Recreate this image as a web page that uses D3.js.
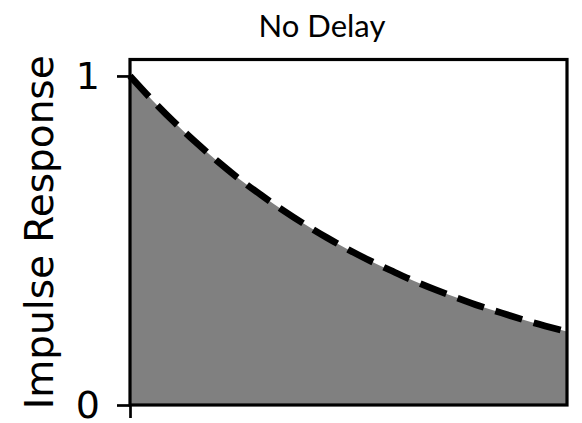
<!DOCTYPE html>
<html>
<head>
<meta charset="utf-8">
<script src="https://cdn.jsdelivr.net/npm/d3@7"></script>
<style>
  body { margin: 0; background: #fff; }
  .dv { font-family: "DejaVu Sans", "Verdana", sans-serif; }
</style>
</head>
<body>
<div id="root"></div>
<script>
const width = 582;
const height = 423;

// time points and response
const times = [0, 0.05, 0.1, 0.15, 0.2, 0.25, 0.3, 0.35, 0.4, 0.45, 0.5,
               0.55, 0.6, 0.65, 0.7, 0.75, 0.8, 0.85, 0.9, 0.95, 1];
const response = [1.000, 0.928, 0.861, 0.799, 0.741, 0.687, 0.638, 0.592, 0.549, 0.509, 0.472,
                  0.438, 0.407, 0.377, 0.350, 0.325, 0.301, 0.280, 0.259, 0.240, 0.223];
const yTicks = [0, 1];
const xTicks = [0];

const title = "No Delay";
const yLabel = "Impulse Response";

const plotLeft = 130, plotRight = 567, plotTop = 59.5, plotBottom = 405;

const svg = d3.select("#root").append("svg")
  .attr("width", width)
  .attr("height", height);

const x = d3.scaleLinear().domain([0, 1]).range([plotLeft, plotRight]);
const y = d3.scaleLinear().domain([0, 1.05]).range([plotBottom, plotTop]);

const points = times.map((t, i) => [t, response[i]]);

// gray fill under the curve
svg.append("path")
  .datum(points)
  .attr("fill", "#808080")
  .attr("d", d3.area()
    .x(d => x(d[0]))
    .y0(y(0))
    .y1(d => y(d[1]))
    .curve(d3.curveNatural));

// dashed line on top
svg.append("path")
  .datum(points)
  .attr("fill", "none")
  .attr("stroke", "#000")
  .attr("stroke-width", 6.7)
  .attr("stroke-dasharray", "28,12")
  .attr("d", d3.line()
    .x(d => x(d[0]))
    .y(d => y(d[1]))
    .curve(d3.curveNatural));

// frame
svg.append("rect")
  .attr("x", plotLeft)
  .attr("y", plotTop)
  .attr("width", plotRight - plotLeft)
  .attr("height", plotBottom - plotTop)
  .attr("fill", "none")
  .attr("stroke", "#000")
  .attr("stroke-width", 3.2);

const yAxis = svg.append("g")
  .attr("transform", `translate(${plotLeft},0)`)
  .call(d3.axisLeft(y).tickValues(yTicks).tickFormat(d3.format("d")).tickSize(13).tickPadding(17));

const xAxis = svg.append("g")
  .attr("transform", `translate(0,${plotBottom})`)
  .call(d3.axisBottom(x).tickValues(xTicks).tickFormat("").tickSize(13));

svg.selectAll(".domain").remove();
svg.selectAll(".tick line").attr("stroke", "#000").attr("stroke-width", 2.7);
yAxis.attr("font-family", null);
yAxis.selectAll("text")
  .attr("class", "dv")
  .style("font-size", "38px")
  .attr("fill", "#000");

svg.append("text")
  .attr("x", 322)
  .attr("y", 37)
  .attr("text-anchor", "middle")
  .style("font-family", "Lato")
  .style("font-size", "31px")
  .text(title);

svg.append("text")
  .attr("class", "dv")
  .attr("transform", `translate(53,${(plotTop + plotBottom) / 2}) rotate(-90)`)
  .attr("text-anchor", "middle")
  .style("font-size", "39px")
  .text(yLabel);
</script>
</body>
</html>
